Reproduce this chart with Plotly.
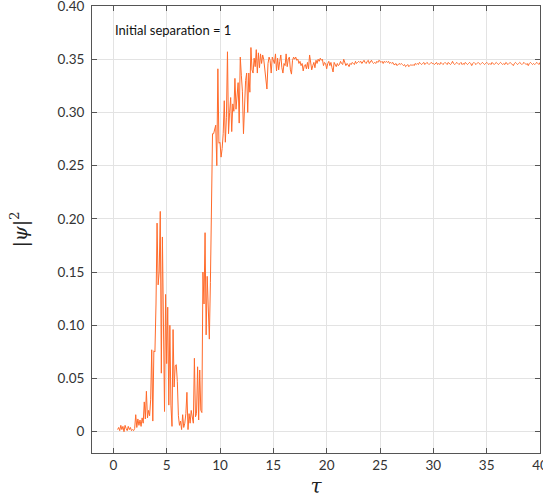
import numpy as np
import plotly.graph_objects as go

# Sample times (tau) and occupation |psi|^2 of the tracked state
tau = np.round(np.arange(0.4, 40.05, 0.1), 1)

psi_sq = [
    # 0.4 - 0.9
    0.002, 0.004, 0.001, 0.006, 0.002, 0.005,
    # 1.0 - 13.9
    0.000, 0.006, 0.003, 0.001, 0.005, 0.002, 0.004, 0.001, 0.002, 0.001,
    0.003, 0.016, 0.004, 0.012, 0.006, 0.011, 0.005, 0.013, 0.008, 0.028,
    0.012, 0.038, 0.013, 0.020, 0.015, 0.030, 0.077, 0.010, 0.076, 0.075,
    0.120, 0.196, 0.138, 0.150, 0.207, 0.055, 0.183, 0.070, 0.019, 0.129,
    0.064, 0.117, 0.025, 0.100, 0.025, 0.005, 0.096, 0.042, 0.062, 0.063,
    0.047, 0.015, 0.006, 0.010, 0.002, 0.016, 0.004, 0.008, 0.017, 0.037,
    0.002, 0.017, 0.008, 0.020, 0.015, 0.008, 0.069, 0.014, 0.017, 0.061,
    0.011, 0.058, 0.020, 0.018, 0.150, 0.120, 0.187, 0.091, 0.146, 0.108,
    0.087, 0.140, 0.243, 0.280, 0.280, 0.286, 0.288, 0.250, 0.341, 0.271,
    0.272, 0.258, 0.266, 0.280, 0.311, 0.272, 0.295, 0.357, 0.280, 0.300,
    0.314, 0.282, 0.308, 0.301, 0.332, 0.303, 0.315, 0.328, 0.290, 0.352,
    0.335, 0.320, 0.280, 0.316, 0.330, 0.337, 0.300, 0.337, 0.319, 0.361,
    0.340, 0.337, 0.351, 0.343, 0.359, 0.337, 0.356, 0.342, 0.355, 0.346,
    # 14.0 - 14.9
    0.354, 0.350, 0.341, 0.333, 0.322, 0.346, 0.352, 0.349, 0.337, 0.352,
    # 15.0 - 39.9
    0.348, 0.346, 0.355, 0.339, 0.351, 0.340, 0.348, 0.354, 0.342, 0.337,
    0.346, 0.344, 0.355, 0.343, 0.350, 0.352, 0.340, 0.336, 0.349, 0.352,
    0.350, 0.352, 0.349, 0.350, 0.346, 0.348, 0.344, 0.346, 0.339, 0.344,
    0.345, 0.341, 0.347, 0.341, 0.354, 0.345, 0.340, 0.344, 0.347, 0.342,
    0.349, 0.346, 0.350, 0.348, 0.351, 0.349, 0.350, 0.344, 0.347, 0.346,
    0.341, 0.346, 0.348, 0.344, 0.347, 0.342, 0.338, 0.347, 0.345, 0.343,
    0.346, 0.344, 0.345, 0.348, 0.346, 0.345, 0.350, 0.347, 0.344, 0.346,
    0.345, 0.343, 0.346, 0.345, 0.347, 0.346, 0.345, 0.348, 0.346, 0.347,
    0.348, 0.347, 0.348, 0.346, 0.348, 0.349, 0.347, 0.346, 0.348, 0.349,
    0.346, 0.348, 0.349, 0.347, 0.346, 0.347, 0.346, 0.348, 0.347, 0.349,
    0.348, 0.347, 0.348, 0.346, 0.348, 0.347, 0.348, 0.347, 0.348, 0.346,
    0.347, 0.346, 0.347, 0.345, 0.345, 0.346, 0.344, 0.345, 0.346, 0.345,
    0.346, 0.345, 0.344, 0.345, 0.343, 0.344, 0.345, 0.343, 0.344, 0.345,
    0.344, 0.345, 0.344, 0.346, 0.345, 0.346, 0.345, 0.347, 0.346, 0.345,
    0.346, 0.347, 0.345, 0.346, 0.347, 0.346, 0.345, 0.346, 0.347, 0.346,
    0.346, 0.345, 0.346, 0.347, 0.345, 0.346, 0.345, 0.347, 0.346, 0.345,
    0.346, 0.347, 0.346, 0.345, 0.347, 0.346, 0.345, 0.346, 0.348, 0.346,
    0.345, 0.346, 0.347, 0.346, 0.345, 0.346, 0.347, 0.345, 0.346, 0.345,
    0.347, 0.346, 0.345, 0.346, 0.347, 0.346, 0.344, 0.346, 0.347, 0.346,
    0.345, 0.346, 0.347, 0.346, 0.345, 0.346, 0.347, 0.346, 0.345, 0.346,
    0.347, 0.346, 0.345, 0.346, 0.345, 0.347, 0.346, 0.345, 0.346, 0.347,
    0.346, 0.345, 0.346, 0.347, 0.346, 0.345, 0.346, 0.345, 0.347, 0.346,
    0.345, 0.346, 0.347, 0.346, 0.345, 0.344, 0.346, 0.347, 0.346, 0.345,
    0.346, 0.347, 0.346, 0.345, 0.346, 0.347, 0.346, 0.345, 0.346, 0.344,
    0.346, 0.347, 0.346, 0.345, 0.346, 0.345, 0.346, 0.347, 0.346, 0.345,
    # 40.0
    0.347,
]

x_ticks = [0, 5, 10, 15, 20, 25, 30, 35, 40]
y_ticks = [0, 0.05, 0.10, 0.15, 0.20, 0.25, 0.30, 0.35, 0.40]
y_tick_text = ["0", "0.05", "0.10", "0.15", "0.20", "0.25", "0.30", "0.35", "0.40"]

fig = go.Figure()
fig.add_trace(go.Scatter(
    x=tau, y=psi_sq, mode="lines",
    line=dict(color="#ff6a2a", width=1),
    showlegend=False,
))

axis_common = dict(
    showline=True, linecolor="#555555", linewidth=1, mirror="ticks",
    ticks="inside", ticklen=5, tickcolor="#555555", tickwidth=1,
    showgrid=True, gridcolor="#e3e3e3", gridwidth=1,
    zeroline=False, ticklabeloverflow="allow", automargin=False,
    tickfont=dict(family="Lato", size=13.5, color="#333333"),
)

fig.update_xaxes(
    range=[-2, 40.0001], tickvals=x_ticks,
    title=dict(text="<i>τ</i>", font=dict(family="DejaVu Serif", size=20, color="#222222"),
               standoff=6),
    **axis_common,
)
fig.update_yaxes(
    range=[-0.02, 0.40001], tickvals=y_ticks, ticktext=y_tick_text,
    ticklabelstandoff=4,
    title=dict(text="|<i>ψ</i>|<sup>2</sup>", font=dict(family="DejaVu Serif", size=19, color="#222222"),
               standoff=24),
    **axis_common,
)

fig.add_annotation(
    x=0, y=0.377, xref="x", yref="y", xanchor="left", yanchor="middle",
    text="Initial separation = 1", showarrow=False,
    font=dict(family="Lato", size=13, color="#111111"),
)

fig.update_layout(
    width=543, height=501,
    margin=dict(l=92, r=3, t=6, b=48),
    paper_bgcolor="white", plot_bgcolor="white",
)

fig.write_html("out.html")
